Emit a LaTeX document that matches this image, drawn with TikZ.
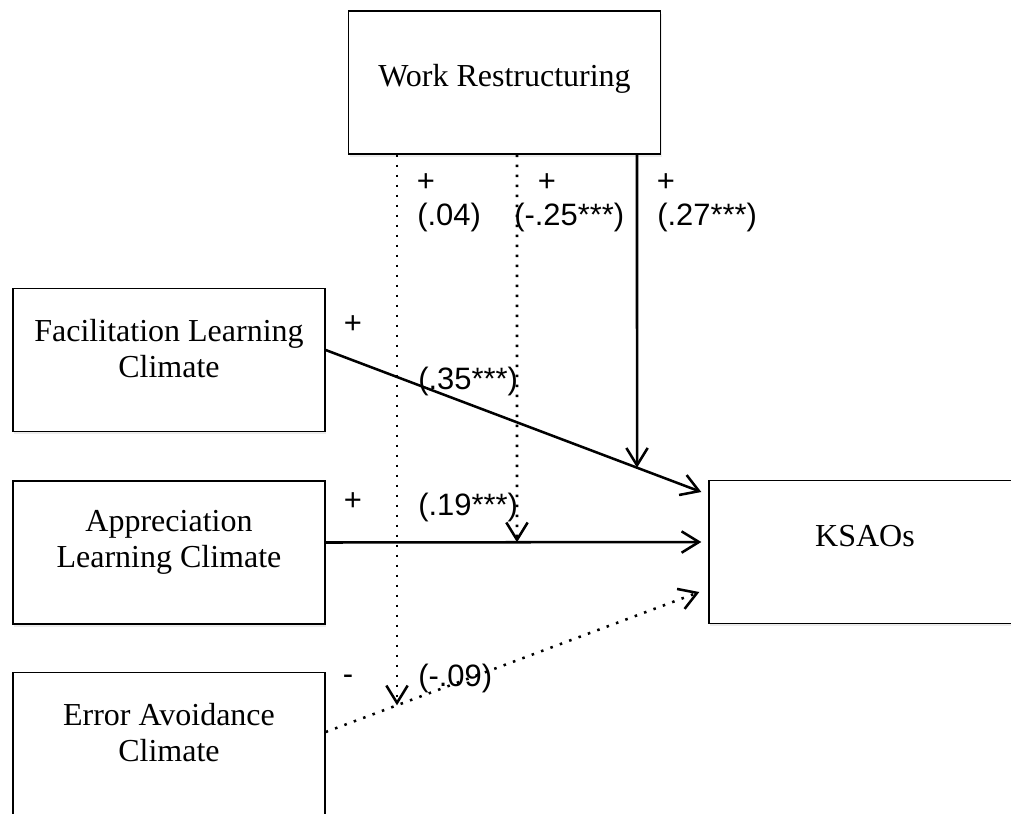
\documentclass[tikz,border=0pt]{standalone}
\usepackage{fontspec}
\setmainfont{Liberation Serif}
\newfontfamily\coeffont{Liberation Sans}
\usetikzlibrary{arrows.meta,calc,shadows}

\tikzset{
    varbox/.style={draw, fill=white, line width=1pt, inner sep=0pt,
        minimum width=234pt, minimum height=107.25pt,
        drop shadow={opacity=0.15, shadow xshift=0.8pt, shadow yshift=-2.2pt}},
    boxtext/.style={align=center, inner sep=0pt, font=\fontsize{24}{27.5}\selectfont},
    sign/.style={inner sep=0pt, font=\coeffont\fontsize{23.2}{26}\selectfont},
    coef/.style={sign, anchor=west},
    effect/.style={line width=1.9pt, -{Straight Barb[length=13pt,width=16pt]}},
    noeffect/.style={effect, dash pattern=on 1.9pt off 5.6pt},
}

\begin{document}
\begin{tikzpicture}[x=0.75pt, y=-0.75pt]

    \useasboundingbox (0,0) rectangle (1011,814);
    \clip (0,0) rectangle (1011,814);

    % nodes (variables)
    \node[varbox, label={[boxtext, yshift=3pt]center:Work Restructuring}] (wr) at (504.5,82.5) {};
    \node[varbox, label={[boxtext, yshift=8.6pt]center:Facilitation Learning\\Climate}] (fac) at (169,360) {};
    \node[varbox, label={[boxtext, yshift=7.5pt]center:Appreciation\\Learning Climate}] (app) at (169,552.5) {};
    \node[varbox, label={[boxtext, yshift=8.6pt]center:Error Avoidance\\Climate}] (err) at (169,744) {};
    \node[varbox, label={[boxtext, yshift=12pt]center:KSAOs}] (ks) at (865,552) {};

    % x positions of the moderator paths
    \coordinate (c1) at (397,0);
    \coordinate (c2) at (517,0);
    \coordinate (c3) at (637,0);
    \coordinate (t1) at (wr.south -| c1);
    \coordinate (t2) at (wr.south -| c2);
    \coordinate (t3) at (wr.south -| c3);

    % edges
    \draw[effect] ($(fac.east)+(0,-10)$) coordinate (f1) -- ($(ks.west)+(-7,-60)$) coordinate (f2); % fac -> KSAOs
    \draw[effect] ($(app.east)+(0,-10)$) coordinate (a1) -- ($(ks.west)+(-7,-10)$) coordinate (a2); % app -> KSAOs
    \draw[noeffect] ($(err.east)+(0,-12)$) coordinate (e1) -- ($(ks.west)+(-9,40)$) coordinate (e2); % err -> KSAOs
    \draw[noeffect] (t1) -- (intersection of t1--c1 and e1--e2); % wr x err
    \draw[noeffect] (t2) -- (intersection of t2--c2 and a1--a2); % wr x app
    \draw[effect] (t3) -- (intersection of t3--c3 and f1--f2); % wr x fac

    % labels
    \node[sign] (s1) at (426,183) {+};
    \node[sign] (s2) at (547,183) {+};
    \node[sign] (s3) at (666,183) {+};
    \node[coef] (b1) at (417,217) {(.04)};
    \node[coef] (b2) at (514,217) {(-.25***)};
    \node[coef] (b3) at (657,217) {(.27***)};
    \node[sign] (s4) at (353,325) {+};
    \node[coef] (b4) at (418,381) {(.35***)};
    \node[sign] (s5) at (353,502) {+};
    \node[coef] (b5) at (418,507) {(.19***)};
    \node[sign] (s6) at (348,680) {-};
    \node[coef] (b6) at (418,678) {(-.09)};

\end{tikzpicture}
\end{document}
